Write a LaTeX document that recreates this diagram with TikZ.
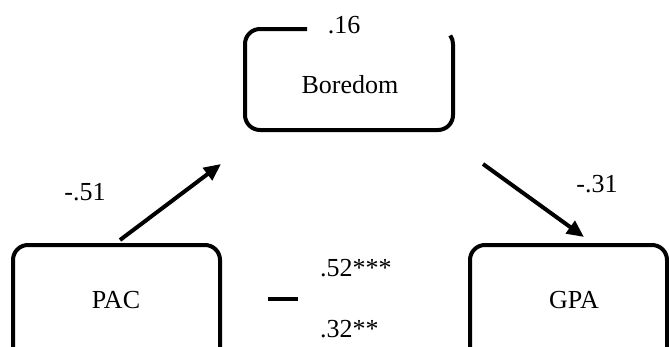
\documentclass[tikz,border=0pt]{standalone}
\usepackage{fontspec}
\setmainfont{Liberation Serif}
\usetikzlibrary{arrows.meta}
\begin{document}
\begin{tikzpicture}[x=1pt,y=-1pt,
  lbl/.style={inner sep=0pt,font=\fontsize{26}{30}\selectfont},
  boxline/.style={line width=4pt,rounded corners=15pt},
  path/.style={line width=4pt,-{Triangle[length=17pt,width=15pt]}}]
\useasboundingbox (0,0) rectangle (669,346);
\clip (0,0) rectangle (669,346);
% box outlines
\draw[boxline] (307,29) -- (245,29) -- (245,130) -- (453,130) -- (453,44);
\draw[line width=4pt] (453,44) arc[start angle=0,end angle=35,radius=15pt];
\draw[boxline] (13,360) -- (13,245) -- (220,245) -- (220,360);
\draw[boxline] (470,360) -- (470,245) -- (667,245) -- (667,360);
% texts
\node[lbl,anchor=base] (boredom) at (350,93) {Boredom};
\node[lbl,anchor=base] (pac) at (116,308) {PAC};
\node[lbl,anchor=base] (gpa) at (574,308) {GPA};
\node[lbl,anchor=base] (r16) at (344,33) {.16};
\node[lbl,anchor=base] (a) at (85,200) {-.51};
\node[lbl,anchor=base] (b) at (597,192) {-.31};
\node[lbl,anchor=base west] (c) at (320,276) {.52***};
\node[lbl,anchor=base west] (cp) at (320,337) {.32**};
% connectors
\coordinate (s1) at (120,240);
\coordinate (e1) at (221,164);
\coordinate (s2) at (483,164);
\coordinate (e2) at (584,237);
\coordinate (m1) at (268,299);
\coordinate (m2) at (298,299);
\draw[path] (s1) -- (e1);
\draw[path] (s2) -- (e2);
\draw[line width=4pt] (m1) -- (m2);
\end{tikzpicture}
\end{document}
